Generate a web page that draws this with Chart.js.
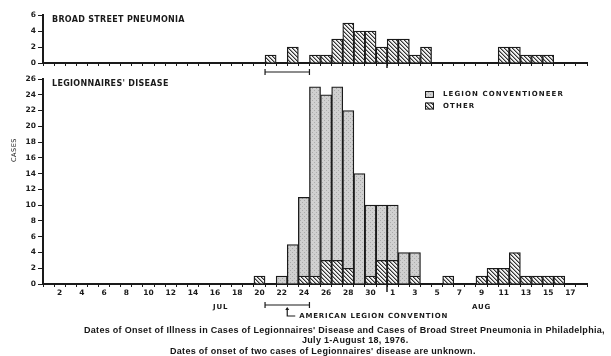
<!DOCTYPE html>
<html>
<head>
<meta charset="utf-8">
<script src="https://cdn.jsdelivr.net/npm/chart.js@4.4.1/dist/chart.umd.min.js"></script>
<style>
  html, body { margin: 0; padding: 0; background: #fff; }
  #wrap { position: relative; width: 611px; height: 356px; overflow: hidden; background: #fff; }
  #wrap canvas { position: absolute; left: 0; top: 0; }
  .cap { position: absolute; font: bold 9px "Liberation Sans", Arial, sans-serif; letter-spacing: 0.3px; color: #151515; white-space: nowrap; }
</style>
</head>
<body>
<div id="wrap">
  <canvas id="top-chart" width="611" height="356"></canvas>
  <canvas id="main-chart" width="611" height="356"></canvas>
  <div class="cap" style="left:84px; top:325px;">Dates of Onset of Illness in Cases of Legionnaires' Disease and Cases of Broad Street Pneumonia in Philadelphia,</div>
  <div class="cap" style="left:302px; top:335px;">July 1-August 18, 1976.</div>
  <div class="cap" style="left:170px; top:346px;">Dates of onset of two cases of Legionnaires' disease are unknown.</div>
</div>
<script>
// days, Jul 1 - Aug 18 1976
const dates = [
  'Jul 1', 'Jul 2', 'Jul 3', 'Jul 4', 'Jul 5', 'Jul 6', 'Jul 7', 'Jul 8', 'Jul 9', 'Jul 10',
  'Jul 11', 'Jul 12', 'Jul 13', 'Jul 14', 'Jul 15', 'Jul 16', 'Jul 17', 'Jul 18', 'Jul 19', 'Jul 20',
  'Jul 21', 'Jul 22', 'Jul 23', 'Jul 24', 'Jul 25', 'Jul 26', 'Jul 27', 'Jul 28', 'Jul 29', 'Jul 30', 'Jul 31',
  'Aug 1', 'Aug 2', 'Aug 3', 'Aug 4', 'Aug 5', 'Aug 6', 'Aug 7', 'Aug 8', 'Aug 9', 'Aug 10',
  'Aug 11', 'Aug 12', 'Aug 13', 'Aug 14', 'Aug 15', 'Aug 16', 'Aug 17', 'Aug 18'
];
const tickLabels = [
  '', '2', '', '4', '', '6', '', '8', '', '10',
  '', '12', '', '14', '', '16', '', '18', '', '20',
  '', '22', '', '24', '', '26', '', '28', '', '30', '',
  '1', '', '3', '', '5', '', '7', '', '9', '',
  '11', '', '13', '', '15', '', '17', ''
];

const broadStreet = [
  0, 0, 0, 0, 0, 0, 0, 0, 0, 0,
  0, 0, 0, 0, 0, 0, 0, 0, 0, 0,
  1, 0, 2, 0, 1, 1, 3, 5, 4, 4, 2,
  3, 3, 1, 2, 0, 0, 0, 0, 0, 0,
  2, 2, 1, 1, 1, 0, 0, 0
];
const legionConventioneer = [
  0, 0, 0, 0, 0, 0, 0, 0, 0, 0,
  0, 0, 0, 0, 0, 0, 0, 0, 0, 0,
  0, 1, 5, 10, 24, 21, 22, 20, 14, 9, 7,
  7, 4, 3, 0, 0, 0, 0, 0, 0, 0,
  0, 0, 0, 0, 0, 0, 0, 0
];
const otherCases = [
  0, 0, 0, 0, 0, 0, 0, 0, 0, 0,
  0, 0, 0, 0, 0, 0, 0, 0, 0, 1,
  0, 0, 0, 1, 1, 3, 3, 2, 0, 1, 3,
  3, 0, 1, 0, 0, 1, 0, 0, 1, 2,
  2, 4, 1, 1, 1, 1, 0, 0
];

const convention = ['Jul 21', 'Jul 24'];
const monthLabels = [['JUL', 'Jul 16', 'Jul 17'], ['AUG', 'Aug 9', 'Aug 9']];

const INK = '#1a1a1a';
const tickFont = { family: 'DejaVu Sans', size: 7.5, weight: 'bold' };

function hatch(ctx) {
  const c = document.createElement('canvas');
  c.width = 4; c.height = 4;
  const g = c.getContext('2d');
  g.fillStyle = '#f2f2f2'; g.fillRect(0, 0, 4, 4);
  g.fillStyle = '#9a9a9a';
  for (let i = 0; i < 4; i++) g.fillRect((i + 1) % 4, i, 1, 1);
  g.fillStyle = '#333';
  for (let i = 0; i < 4; i++) g.fillRect(i, i, 1, 1);
  return ctx.createPattern(c, 'repeat');
}

function stipple(ctx) {
  const c = document.createElement('canvas');
  c.width = 4; c.height = 4;
  const g = c.getContext('2d');
  g.fillStyle = '#d0d0d0'; g.fillRect(0, 0, 4, 4);
  g.fillStyle = '#ababab';
  g.fillRect(0, 0, 1, 1); g.fillRect(2, 2, 1, 1);
  return ctx.createPattern(c, 'repeat');
}

// titles, month divider, convention bracket, legend
const decor = {
  id: 'decor',
  afterDraw(chart, args, o) {
    const { ctx, chartArea: a, scales: { x } } = chart;
    const half = (x.getPixelForValue(1) - x.getPixelForValue(0)) / 2;
    const at = (d) => x.getPixelForValue(dates.indexOf(d));
    ctx.save();
    ctx.fillStyle = INK;
    ctx.strokeStyle = INK;
    ctx.textBaseline = 'middle';

    ctx.font = 'bold 8px "DejaVu Sans"';
    ctx.letterSpacing = '0.3px';
    ctx.fillText(o.title, a.left + 9, a.top + 5);

    // Jul / Aug divider
    const mx = Math.round(at('Aug 1') - half);
    ctx.lineWidth = 1.5;
    ctx.beginPath();
    ctx.moveTo(mx, a.bottom - o.divUp);
    ctx.lineTo(mx, a.bottom + o.divDown);
    ctx.stroke();

    // convention bracket
    const x0 = at(convention[0]) - half;
    const x1 = at(convention[1]) + half;
    const by = a.bottom + o.bracket;
    ctx.lineWidth = 1.2;
    ctx.beginPath();
    ctx.moveTo(x0, by); ctx.lineTo(x1, by);
    ctx.moveTo(x0, by - 3); ctx.lineTo(x0, by + 3);
    ctx.moveTo(x1, by - 3); ctx.lineTo(x1, by + 3);
    ctx.stroke();

    if (o.main) {
      const ax = at('Jul 22') + half;
      const ty = by + 11;
      ctx.beginPath();
      ctx.moveTo(ax, by + 3); ctx.lineTo(ax, ty); ctx.lineTo(ax + 8, ty);
      ctx.stroke();
      ctx.beginPath();
      ctx.moveTo(ax, by + 2); ctx.lineTo(ax - 2, by + 5); ctx.lineTo(ax + 2, by + 5);
      ctx.closePath(); ctx.fill();

      ctx.font = 'bold 7px "DejaVu Sans"';
      ctx.letterSpacing = '0.8px';
      ctx.fillText('AMERICAN LEGION CONVENTION', ax + 12, ty);

      ctx.textAlign = 'center';
      monthLabels.forEach(([t, d0, d1]) => {
        ctx.fillText(t, (at(d0) + at(d1)) / 2, a.bottom + 23);
      });

      // CASES
      ctx.save();
      ctx.translate(14, 150);
      ctx.rotate(-Math.PI / 2);
      ctx.font = '6.5px "DejaVu Sans"';
      ctx.letterSpacing = '0.5px';
      ctx.fillText('CASES', 0, 0);
      ctx.restore();

      // legend
      ctx.textAlign = 'left';
      ctx.font = 'bold 7px "DejaVu Sans"';
      ctx.letterSpacing = '1.1px';
      const items = chart.data.datasets.slice().reverse();
      items.forEach((ds, i) => {
        const ly = 91 + i * 11.5;
        ctx.fillStyle = ds.backgroundColor;
        ctx.fillRect(425, ly, 9, 7);
        ctx.lineWidth = 1;
        ctx.strokeRect(425.5, ly + 0.5, 8, 6);
        ctx.fillStyle = INK;
        ctx.fillText(ds.label, 443, ly + 3.5);
      });
    }
    ctx.restore();
  }
};

function xAxis(height, showLabels) {
  return {
    offset: true,
    afterFit: (s) => { s.height = height; },
    grid: { drawOnChartArea: false, offset: true, tickLength: 3, color: INK, lineWidth: 1 },
    border: { display: true, color: INK, width: 2 },
    ticks: {
      autoSkip: false, maxRotation: 0, padding: 2, color: INK, font: tickFont,
      display: showLabels,
      callback: (v, i) => tickLabels[i]
    }
  };
}

function yAxis(max) {
  return {
    min: 0, max: max,
    afterFit: (s) => { s.width = 43; },
    grid: { drawOnChartArea: false, tickLength: 5, color: INK, lineWidth: 1 },
    border: { display: true, color: INK, width: 2 },
    ticks: { stepSize: 2, padding: 2, color: INK, font: tickFont }
  };
}

const topCtx = document.getElementById('top-chart').getContext('2d');
new Chart(topCtx, {
  type: 'bar',
  data: {
    labels: dates,
    datasets: [{
      label: 'Broad Street pneumonia',
      data: broadStreet,
      backgroundColor: hatch(topCtx),
      borderColor: INK,
      borderWidth: 1.3,
      barPercentage: 1,
      categoryPercentage: 1
    }]
  },
  options: {
    responsive: false,
    animation: false,
    layout: { padding: { top: 15, right: 24, bottom: 283, left: 0 } },
    plugins: {
      legend: { display: false },
      tooltip: { enabled: false },
      decor: { title: 'BROAD STREET PNEUMONIA', divUp: 3, divDown: 5, bracket: 9, main: false }
    },
    scales: { x: xAxis(10, false), y: yAxis(6) }
  },
  plugins: [decor]
});

const mainCtx = document.getElementById('main-chart').getContext('2d');
new Chart(mainCtx, {
  type: 'bar',
  data: {
    labels: dates,
    datasets: [{
      label: 'OTHER',
      data: otherCases,
      backgroundColor: hatch(mainCtx),
      borderColor: INK,
      borderWidth: 1.3,
      barPercentage: 1,
      categoryPercentage: 1
    }, {
      label: 'LEGION CONVENTIONEER',
      data: legionConventioneer,
      backgroundColor: stipple(mainCtx),
      borderColor: INK,
      borderWidth: 1.3,
      barPercentage: 1,
      categoryPercentage: 1
    }]
  },
  options: {
    responsive: false,
    animation: false,
    layout: { padding: { top: 79, right: 24, bottom: 58, left: 0 } },
    plugins: {
      legend: { display: false },
      tooltip: { enabled: false },
      decor: { title: "LEGIONNAIRES' DISEASE", divUp: 5, divDown: 8, bracket: 21, main: true }
    },
    scales: {
      x: Object.assign(xAxis(14, true), { stacked: true }),
      y: Object.assign(yAxis(26), { stacked: true })
    }
  },
  plugins: [decor]
});
</script>
</body>
</html>
